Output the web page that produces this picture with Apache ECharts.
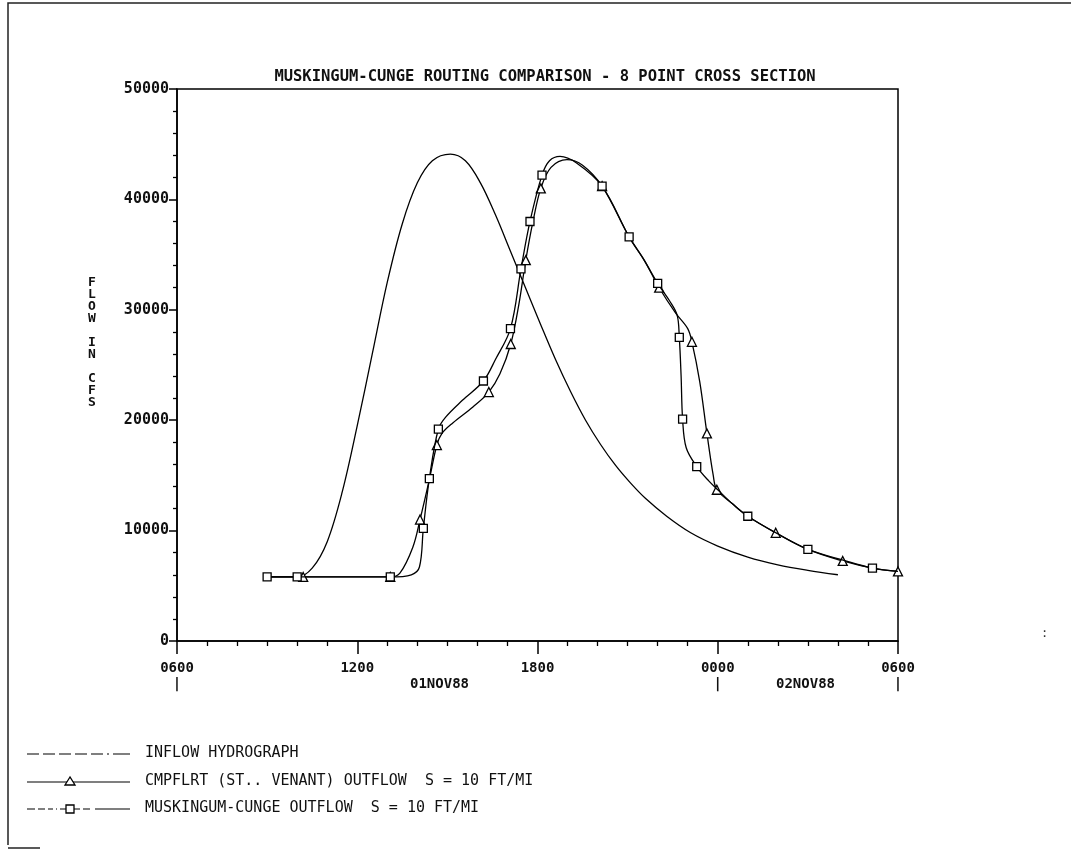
<!DOCTYPE html>
<html>
<head>
<meta charset="utf-8">
<script src="https://cdn.jsdelivr.net/npm/echarts@6/dist/echarts.min.js"></script>
<style>
  html, body { margin: 0; padding: 0; background: #fff; }
  #main { width: 1071px; height: 851px; }
</style>
</head>
<body>
<div id="main"></div>
<script>
// hours after 0600 01NOV88
var inflowHours = [3, 4, 4.5, 5, 5.5, 6, 6.5, 7, 7.5, 8, 8.5, 9.1, 9.6, 10.1, 10.6, 11.1, 11.6, 12.1, 12.6, 13.1, 13.6, 14.1, 14.6, 15.1, 15.6, 16.3, 17.1, 18, 19, 20, 21, 22];
var inflowFlows = [5800, 5800, 6600, 9000, 13500, 19500, 26000, 32500, 37800, 41500, 43500, 44100, 43500, 41500, 38600, 35300, 32000, 28700, 25500, 22600, 20000, 17800, 15900, 14300, 12900, 11300, 9800, 8600, 7600, 6900, 6400, 6000];

var cmpHours = [3, 4.2, 7.1, 7.42, 7.85, 8.09, 8.39, 8.65, 8.82, 9.18, 9.85, 10.38, 10.75, 11.11, 11.38, 11.61, 11.85, 12.11, 12.45, 12.98, 13.5, 14.15, 15.05, 15.55, 16.05, 16.6, 17.0, 17.14, 17.4, 17.64, 17.85, 17.97, 18.5, 19.0, 19.93, 21.0, 22.16, 23.15, 24];
var cmpFlows = [5800, 5800, 5800, 6150, 8500, 11000, 14500, 17750, 18800, 19750, 21200, 22550, 24200, 26900, 30500, 34500, 38000, 41000, 42900, 43600, 43100, 41200, 36600, 34500, 32000, 29700, 28300, 27100, 23500, 18800, 15000, 13700, 12400, 11300, 9800, 8300, 7250, 6600, 6300];
var cmpMarks = [0, 1, 1, 0, 0, 1, 0, 1, 0, 0, 0, 1, 0, 1, 0, 1, 0, 1, 0, 0, 0, 1, 0, 0, 1, 0, 0, 1, 0, 1, 0, 1, 0, 0, 1, 0, 1, 0, 1];

var mcHours = [3, 4.0, 7.1, 7.8, 8.07, 8.2, 8.4, 8.7, 8.95, 9.5, 10.2, 10.6, 11.1, 11.45, 11.75, 12.15, 12.4, 12.75, 13.3, 14.15, 15.05, 15.55, 16.0, 16.4, 16.65, 16.72, 16.78, 16.83, 16.95, 17.3, 17.7, 18.0, 18.5, 19.0, 20.0, 21.0, 22.2, 23.15, 24];
var mcFlows = [5800, 5800, 5800, 6000, 6700, 10200, 14700, 19200, 20300, 21800, 23550, 25500, 28300, 33700, 38000, 42200, 43500, 43900, 43300, 41200, 36600, 34500, 32400, 30800, 29500, 27500, 24000, 20100, 17500, 15800, 14500, 13700, 12400, 11300, 9700, 8300, 7300, 6600, 6300];
var mcMarks = [1, 1, 1, 0, 0, 1, 1, 1, 0, 0, 1, 0, 1, 1, 1, 1, 0, 0, 0, 1, 1, 0, 1, 0, 0, 1, 0, 1, 0, 1, 0, 0, 0, 1, 0, 1, 0, 1, 0];

var xTickLabels = ['0600', '1200', '1800', '0000', '0600'];
var dayLabels = ['01NOV88', '02NOV88'];
var legendNames = ['INFLOW HYDROGRAPH', 'CMPFLRT (ST.. VENANT) OUTFLOW  S = 10 FT/MI', 'MUSKINGUM-CUNGE OUTFLOW  S = 10 FT/MI'];

var FONT = 'DejaVu Sans Mono';

function build(h, f, m) {
    var out = [];
    for (var i = 0; i < h.length; i++) out.push([h[i], f[i], m ? m[i] : 0]);
    return out;
}

var chart = echarts.init(document.getElementById('main'));
chart.setOption({
    animation: false,
    backgroundColor: '#fff',
    title: {
        text: 'MUSKINGUM-CUNGE ROUTING COMPARISON - 8 POINT CROSS SECTION',
        left: 540, top: 64, textAlign: 'center',
        textStyle: { fontFamily: FONT, fontSize: 15.5, fontWeight: 'bold', color: '#111' }
    },
    grid: {
        left: 177, top: 89, width: 721, height: 552,
        show: true, borderColor: '#000', borderWidth: 1.5,
        containLabel: false, outerBoundsMode: 'none'
    },
    xAxis: {
        type: 'value', min: 0, max: 24, interval: 6,
        axisLine: { lineStyle: { color: '#000', width: 1.5 } },
        axisTick: { length: 13, lineStyle: { color: '#000', width: 1.5 } },
        minorTick: { show: true, splitNumber: 6, length: 5, lineStyle: { color: '#000', width: 1.3 } },
        splitLine: { show: false },
        axisLabel: {
            margin: 19, fontFamily: FONT, fontSize: 14, fontWeight: 'bold', color: '#111',
            lineHeight: 16,
            formatter: function (v) {
                var s = xTickLabels[Math.round(v / 6)];
                return (v === 0 || v === 18 || v === 24) ? s + '\n|' : s;
            }
        }
    },
    yAxis: {
        type: 'value', min: 0, max: 50000, interval: 10000,
        axisLine: { lineStyle: { color: '#000', width: 1.5 } },
        axisTick: { length: 8, lineStyle: { color: '#000', width: 1.5 } },
        minorTick: { show: true, splitNumber: 5, length: 4, lineStyle: { color: '#000', width: 1.3 } },
        splitLine: { show: false },
        axisLabel: {
            margin: 8, fontFamily: FONT, fontSize: 15, fontWeight: 'bold', color: '#111',
            formatter: function (v) { return String(v); }
        }
    },
    graphic: [
        { type: 'polyline', shape: { points: [[8, 845], [8, 3], [1071, 3]] }, style: { stroke: '#222', lineWidth: 1.5, fill: null } },
        { type: 'line', shape: { x1: 8, y1: 848, x2: 40, y2: 848 }, style: { stroke: '#222', lineWidth: 1.5 } },
        { type: 'text', left: 88, top: 276, style: { text: 'F\nL\nO\nW\n\nI\nN\n\nC\nF\nS', fontFamily: FONT, fontSize: 13, fontWeight: 'bold', lineHeight: 12, fill: '#111' } },
        { type: 'text', left: 410, top: 677, style: { text: dayLabels[0], fontFamily: FONT, fontSize: 14, fontWeight: 'bold', fill: '#111' } },
        { type: 'text', left: 776, top: 677, style: { text: dayLabels[1], fontFamily: FONT, fontSize: 14, fontWeight: 'bold', fill: '#111' } },
        { type: 'text', left: 1041, top: 628, style: { text: ':', fontFamily: FONT, fontSize: 12, fill: '#333' } },
        // legend samples
        { type: 'line', shape: { x1: 27, y1: 754, x2: 130, y2: 754 }, style: { stroke: '#000', lineWidth: 1.2, lineDash: [12, 4, 12, 4, 12, 4, 12, 4, 12, 4, 2, 4, 14, 0] } },
        { type: 'line', shape: { x1: 27, y1: 782, x2: 130, y2: 782 }, style: { stroke: '#000', lineWidth: 1.2 } },
        { type: 'polygon', shape: { points: [[70, 777], [65, 785], [75, 785]] }, style: { stroke: '#000', fill: '#fff', lineWidth: 1.3 } },
        { type: 'line', shape: { x1: 27, y1: 809, x2: 66, y2: 809 }, style: { stroke: '#000', lineWidth: 1.2, lineDash: [8, 3, 7, 3, 5, 3, 1, 3, 7, 0] } },
        { type: 'line', shape: { x1: 74, y1: 809, x2: 130, y2: 809 }, style: { stroke: '#000', lineWidth: 1.2, lineDash: [6, 3, 7, 5, 40, 0] } },
        { type: 'rect', shape: { x: 66, y: 805, width: 8, height: 8 }, style: { stroke: '#000', fill: '#fff', lineWidth: 1.3 } },
        { type: 'text', left: 145, top: 746, style: { text: legendNames[0], fontFamily: FONT, fontSize: 15, fill: '#111' } },
        { type: 'text', left: 145, top: 774, style: { text: legendNames[1], fontFamily: FONT, fontSize: 15, fill: '#111' } },
        { type: 'text', left: 145, top: 801, style: { text: legendNames[2], fontFamily: FONT, fontSize: 15, fill: '#111' } }
    ],
    series: [
        {
            name: legendNames[0], type: 'line', smooth: 0.35,
            data: build(inflowHours, inflowFlows),
            showSymbol: false,
            lineStyle: { color: '#000', width: 1.3 }
        },
        {
            name: legendNames[1], type: 'line', smooth: 0.35,
            data: build(cmpHours, cmpFlows, cmpMarks),
            showAllSymbol: true,
            symbol: function (v) { return v[2] ? 'triangle' : 'none'; },
            symbolSize: 9,
            lineStyle: { color: '#000', width: 1.3 },
            itemStyle: { color: '#fff', borderColor: '#000', borderWidth: 1.3 },
            z: 3
        },
        {
            name: legendNames[2], type: 'line', smooth: 0.35,
            data: build(mcHours, mcFlows, mcMarks),
            showAllSymbol: true,
            symbol: function (v) { return v[2] ? 'rect' : 'none'; },
            symbolSize: 8,
            lineStyle: { color: '#000', width: 1.3 },
            itemStyle: { color: '#fff', borderColor: '#000', borderWidth: 1.3 },
            z: 4
        }
    ]
});
</script>
</body>
</html>
